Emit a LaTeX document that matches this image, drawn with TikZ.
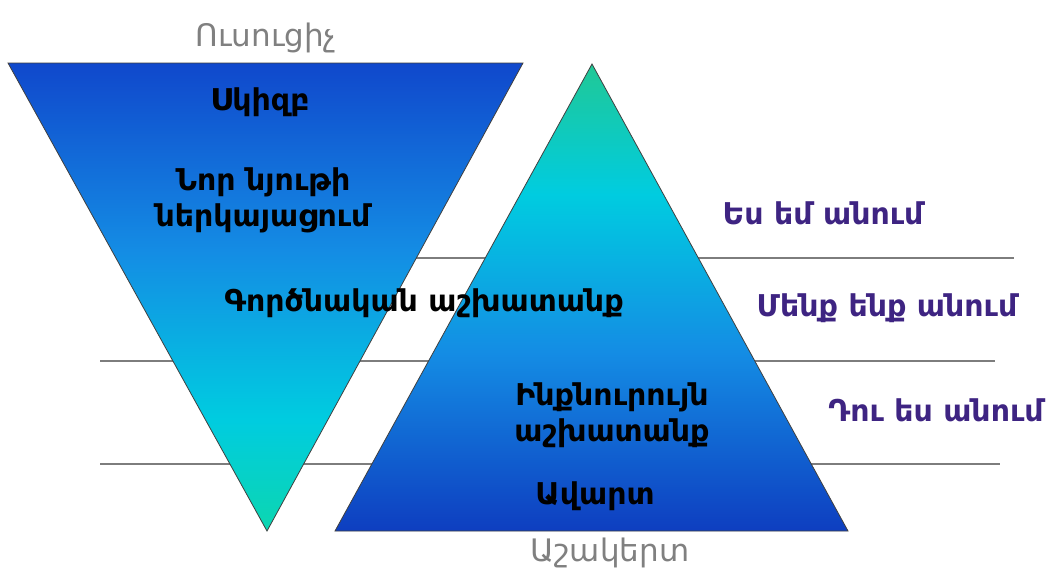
\documentclass[tikz,border=0pt]{standalone}
\usepackage{fontspec}
\setmainfont{DejaVu Sans}
\definecolor{tipg}{RGB}{12,214,176}
\definecolor{cyn}{RGB}{0,204,224}
\definecolor{midb}{RGB}{20,140,228}
\definecolor{darkb}{RGB}{16,72,204}
\definecolor{apexg}{RGB}{32,200,150}
\definecolor{botb}{RGB}{14,62,192}
\definecolor{lblgray}{RGB}{128,128,128}
\definecolor{lblpurp}{RGB}{62,36,130}
\definecolor{rulegray}{RGB}{125,125,125}
\pgfdeclareverticalshading{invshade}{100bp}{color(0bp)=(tipg); color(25bp)=(tipg); color(37bp)=(cyn); color(55bp)=(midb); color(75bp)=(darkb); color(100bp)=(darkb)}
\pgfdeclareverticalshading{upshade}{100bp}{color(0bp)=(botb); color(25bp)=(botb); color(44bp)=(midb); color(61bp)=(cyn); color(75bp)=(apexg); color(100bp)=(apexg)}
\tikzset{
  rule/.style={draw=rulegray, line width=1.6pt},
  tri/.style={draw=black!75, line width=0.8pt},
  intext/.style={font=\fontsize{30}{36}\selectfont\bfseries, text=black, align=center, inner sep=0pt},
  rolelbl/.style={font=\fontsize{31}{36}\selectfont, text=lblgray, inner sep=0pt},
  sidelbl/.style={font=\fontsize{30}{36}\selectfont\bfseries, text=lblpurp, inner sep=0pt}
}
\begin{document}
\begin{tikzpicture}[x=1pt,y=-1pt]
\useasboundingbox (0,0) rectangle (1048,571);
\fill[white] (0,0) rectangle (1048,571);
% rules
\draw[rule] (410,258) coordinate (r1a) -- (1014,258) coordinate (r1b);
\draw[rule] (100,361) coordinate (r2a) -- (995,361) coordinate (r2b);
\draw[rule] (100,464) coordinate (r3a) -- (1000,464) coordinate (r3b);
% triangles
\shadedraw[shading=invshade, tri] (8,63) coordinate (iA) -- (523,63) coordinate (iB) -- (267,531) coordinate (iC) -- cycle;
\shadedraw[shading=upshade, tri] (335,531) coordinate (uA) -- (848,531) coordinate (uB) -- (592,64) coordinate (uC) -- cycle;
% labels
\node[rolelbl] (teacher) at (266,38) {Ուսուցիչ};
\node[rolelbl] (student) at (610,553) {Աշակերտ};
\node[intext] (start) at (260,102) {Սկիզբ};
\node[intext] (newmat) at (263,200) {Նոր նյութի\\ներկայացում};
\node[intext] (practical) at (424,303) {Գործնական աշխատանք};
\node[intext] (indep) at (612,415) {Ինքնուրույն\\աշխատանք};
\node[intext] (finish) at (595,496) {Ավարտ};
\node[sidelbl] (ido) at (823,213) {Ես եմ անում};
\node[sidelbl] (wedo) at (887,308) {Մենք ենք անում};
\node[sidelbl] (youdo) at (936,410) {Դու ես անում};
\end{tikzpicture}
\end{document}
